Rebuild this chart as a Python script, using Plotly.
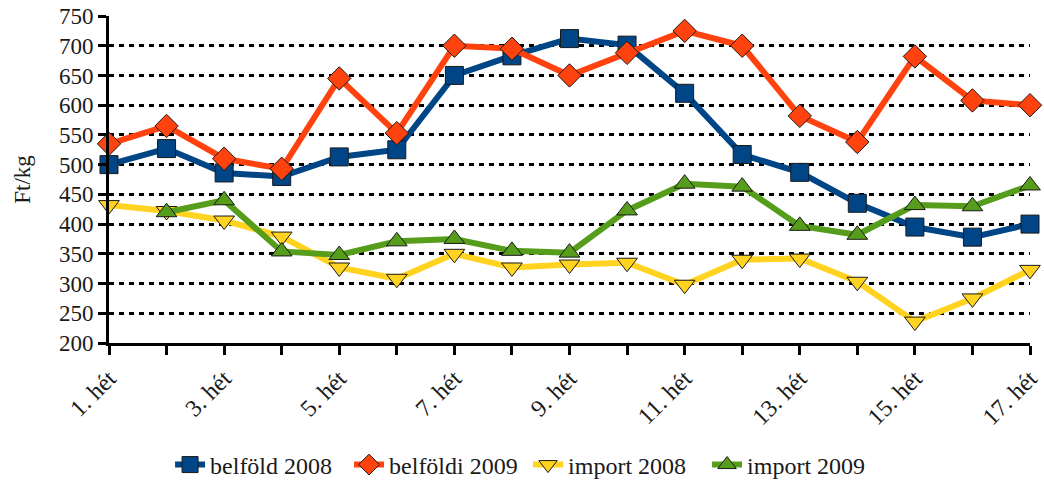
import plotly.graph_objects as go

weeks = [f"{i}. hét" for i in range(1, 18)]
tick_text = [w if i % 2 == 0 else "" for i, w in enumerate(weeks)]

belfold_2008 = [500, 527, 486, 480, 513, 525, 650, 683, 712, 701, 620, 517, 487, 435, 395, 378, 400]
belfoldi_2009 = [535, 565, 510, 493, 645, 553, 700, 695, 650, 688, 725, 700, 582, 538, 682, 608, 600]
import_2008 = [432, 422, 406, 379, 327, 308, 350, 327, 332, 335, 298, 340, 342, 303, 236, 275, 323]
import_2009 = [None, 420, 440, 354, 348, 371, 375, 355, 352, 423, 468, 463, 397, 382, 432, 430, 465]

series = [
    ("belföld 2008", belfold_2008, "#004586", "square", 18),
    ("belföldi 2009", belfoldi_2009, "#ff420e", "diamond", 18),
    ("import 2008", import_2008, "#ffd320", "triangle-down", 18),
    ("import 2009", import_2009, "#579d1c", "triangle-up", 18),
]

FONT = "Liberation Serif"

fig = go.Figure()
for name, vals, color, sym, size in series:
    fig.add_trace(go.Scatter(
        x=list(range(len(weeks))), y=vals, name=name, mode="lines+markers",
        line=dict(color=color, width=6),
        marker=dict(symbol=sym, size=size, color=color, line=dict(color="#1a1a1a", width=1)),
        cliponaxis=False,
    ))

fig.update_layout(
    width=1044, height=484,
    margin=dict(l=109, r=14, t=16, b=141, autoexpand=False),
    paper_bgcolor="white", plot_bgcolor="white",
    font=dict(family=FONT, size=22, color="#1a1a1a"),
    showlegend=True,
    legend=dict(orientation="h", x=0.455, xanchor="center", y=-0.373, yanchor="middle",
                font=dict(family=FONT, size=24), tracegroupgap=0,
                itemwidth=30, entrywidth=134),
)
fig.update_xaxes(
    range=[0, 16], tickmode="array", tickvals=list(range(len(weeks))), ticktext=tick_text,
    tickangle=-45, showgrid=False, zeroline=False, automargin=False,
    showline=True, linecolor="black", linewidth=3,
    ticks="outside", ticklen=9, tickwidth=3, tickcolor="black",
    tickfont=dict(family=FONT, size=24), ticklabeloverflow="allow",
)
fig.update_yaxes(
    range=[200, 750], dtick=50, tick0=200, automargin=False,
    showgrid=True, gridcolor="black", gridwidth=3, griddash="5px,5px",
    zeroline=False, showline=True, linecolor="black", linewidth=3,
    ticks="outside", ticklen=8, tickwidth=3, tickcolor="black",
    tickfont=dict(family=FONT, size=23), ticklabeloverflow="allow",
    title=dict(text="Ft/kg", font=dict(family=FONT, size=23), standoff=22),
)

fig.write_html("out.html", config={"displayModeBar": False},
               post_script="document.body.style.margin='0';")
